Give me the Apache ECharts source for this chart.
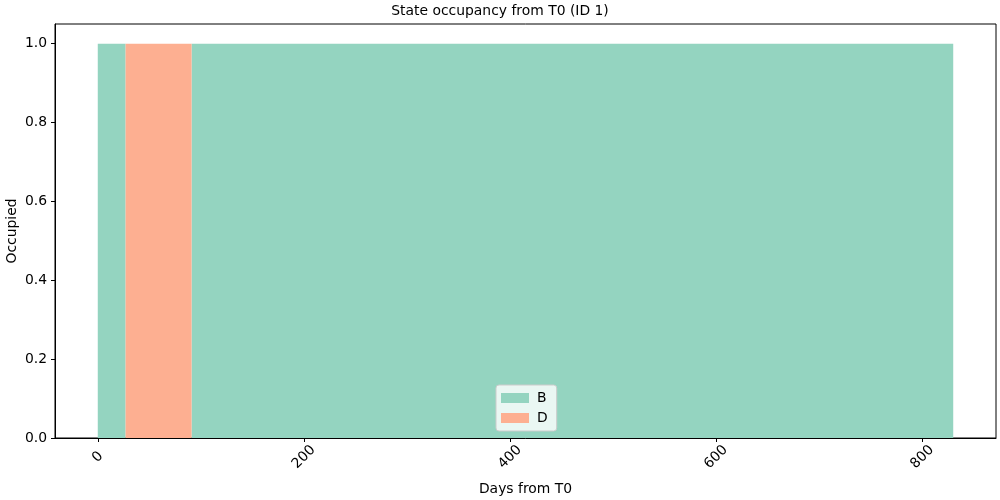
<!DOCTYPE html>
<html>
<head>
<meta charset="utf-8">
<script src="https://cdn.jsdelivr.net/npm/echarts@6/dist/echarts.min.js"></script>
<style>
html, body { margin: 0; padding: 0; background: #fff; }
#chart { width: 1000px; height: 500px; }
</style>
</head>
<body>
<div id="chart"></div>
<script>
// state spans, days from T0
var stateNames = ['B', 'D'];
var stateB = [[0, 1], [27, 0], [91, 1], [830, 1]];
var stateD = [[0, 0], [27, 1], [91, 0], [830, 0]];
var xTicks = [0, 200, 400, 600, 800];
var yTicks = [0, 0.2, 0.4, 0.6, 0.8, 1.0];

var colorB = '#94d4c0';
var colorD = '#fdaf91';
var font = 'DejaVu Sans';
var fs = 13.9;

function areaSeries(name, data, color) {
	return {
		name: name,
		type: 'line',
		step: 'end',
		data: data,
		symbol: 'none',
		lineStyle: { width: 0 },
		itemStyle: { color: color },
		areaStyle: { color: color, opacity: 1 },
		silent: true
	};
}

var myChart = echarts.init(document.getElementById('chart'));
myChart.setOption({
	animation: false,
	textStyle: { fontFamily: font },
	title: {
		text: 'State occupancy from T0 (ID 1)',
		left: 'center',
		top: -1,
		textStyle: { fontFamily: font, fontSize: fs, fontWeight: 'normal', color: '#000' }
	},
	grid: {
		left: 55,
		right: 4,
		top: 24,
		bottom: 62,
		outerBoundsMode: 'none',
		containLabel: false,
		show: true,
		borderColor: '#000',
		borderWidth: 1
	},
	legend: {
		orient: 'vertical',
		left: 496,
		bottom: 69,
		data: stateNames,
		icon: 'rect',
		itemWidth: 28,
		itemHeight: 10,
		itemGap: 6,
		padding: [6, 9, 6, 5],
		backgroundColor: 'rgba(255,255,255,0.8)',
		borderColor: '#cccccc',
		borderWidth: 1,
		borderRadius: 3,
		textStyle: { fontFamily: font, fontSize: fs, color: '#000', padding: [0, 0, 0, 3] }
	},
	xAxis: {
		type: 'value',
		min: -41.5,
		max: 871.5,
		name: 'Days from T0',
		nameLocation: 'middle',
		nameGap: 44,
		nameMoveOverlap: false,
		nameTextStyle: { fontFamily: font, fontSize: fs, color: '#000' },
		axisLine: { show: true, onZero: false, lineStyle: { color: '#000' } },
		axisTick: { show: true, length: 4, customValues: xTicks, lineStyle: { color: '#000' } },
		axisLabel: {
			customValues: xTicks,
			rotate: 45,
			align: 'center',
			verticalAlign: 'middle',
			margin: 19,
			fontFamily: font,
			fontSize: fs,
			color: '#000'
		},
		splitLine: { show: false }
	},
	yAxis: {
		type: 'value',
		min: 0,
		max: 1.05,
		name: 'Occupied',
		nameLocation: 'middle',
		nameGap: 36,
		nameMoveOverlap: false,
		nameTextStyle: { fontFamily: font, fontSize: fs, color: '#000' },
		axisLine: { show: true, onZero: false, lineStyle: { color: '#000' } },
		axisTick: { show: true, length: 4, customValues: yTicks, lineStyle: { color: '#000' } },
		axisLabel: {
			customValues: yTicks,
			formatter: function (v) { return v.toFixed(1); },
			margin: 8,
			fontFamily: font,
			fontSize: fs,
			color: '#000'
		},
		splitLine: { show: false }
	},
	series: [
		areaSeries('B', stateB, colorB),
		areaSeries('D', stateD, colorD)
	]
});
</script>
</body>
</html>
